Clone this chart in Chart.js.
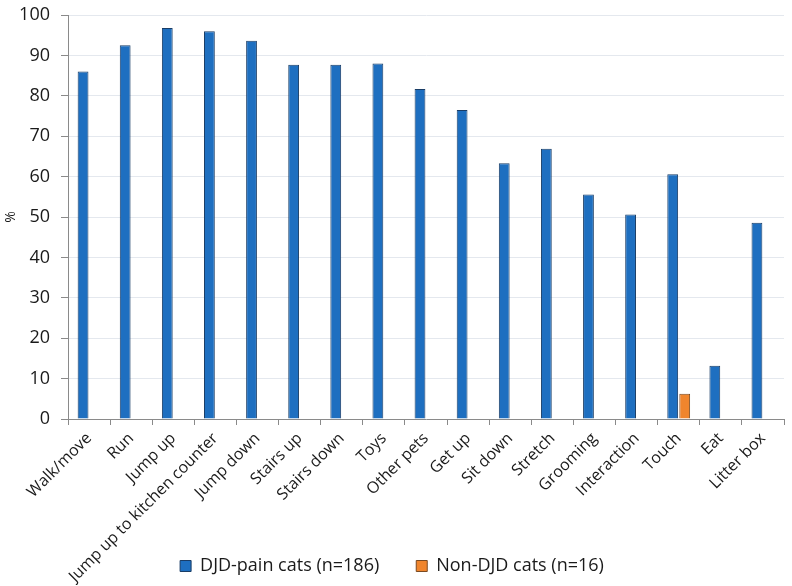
<!DOCTYPE html>
<html>
<head>
<meta charset="utf-8">
<script src="https://cdn.jsdelivr.net/npm/chart.js@4.4.1/dist/chart.umd.min.js"></script>
<style>
html,body{margin:0;padding:0;background:#fff;}
#wrap{width:792px;height:586px;position:relative;}
</style>
</head>
<body>
<div id="wrap"><canvas id="c" width="792" height="586"></canvas></div>
<script>
const categories = ["Walk/move","Run","Jump up","Jump up to kitchen counter","Jump down","Stairs up","Stairs down","Toys","Other pets","Get up","Sit down","Stretch","Grooming","Interaction","Touch","Eat","Litter box"];
const djdPain = [86.0,92.5,96.8,96.0,93.6,87.7,87.7,88.0,81.7,76.5,63.3,66.9,55.6,50.6,60.6,13.2,48.6];
const nonDjd = [0,0,0,0,0,0,0,0,0,0,0,0,0,0,6.25,0,0];
const seriesNames = ["DJD-pain cats (n=186)","Non-DJD cats (n=16)"];
const yTicks = [0,10,20,30,40,50,60,70,80,90,100];

const FONT = "'Open Sans', 'DejaVu Sans', sans-serif";
Chart.defaults.font.family = FONT;
Chart.defaults.color = '#1a1a1a';

// the legend row shares the space under the rotated category labels
const legendPlace = {
  id: 'legendPlace',
  beforeDraw(chart) {
    const l = chart.legend;
    if (l) { l.top = 520; l.bottom = chart.height; l.height = l.bottom - l.top; }
  }
};

new Chart(document.getElementById('c'), {
  type: 'bar',
  data: {
    labels: categories,
    datasets: [
      {label: seriesNames[0], data: djdPain, backgroundColor: '#1e6fc0', borderColor: '#1a3d66', borderWidth: 1,
       categoryPercentage: 0.57, barPercentage: 0.9},
      {label: seriesNames[1], data: nonDjd, backgroundColor: '#f0852d', borderColor: '#7a4a22', borderWidth: 1,
       categoryPercentage: 0.57, barPercentage: 0.9}
    ]
  },
  plugins: [legendPlace],
  options: {
    responsive: false,
    animation: false,
    devicePixelRatio: 1,
    layout: {padding: {left: 0, right: 8, top: 15, bottom: 0}},
    plugins: {
      tooltip: {enabled: false},
      legend: {
        position: 'bottom',
        maxHeight: 1,
        labels: {
          boxWidth: 11, boxHeight: 11, padding: 37,
          font: {size: 18}, color: '#1a1a1a'
        }
      }
    },
    scales: {
      x: {
        offset: true,
        grid: {offset: true, drawOnChartArea: false, drawTicks: true, tickLength: 6, tickColor: '#8a8a8a'},
        border: {display: true, color: '#8a8a8a', width: 1},
        ticks: {minRotation: 45, maxRotation: 45, autoSkip: false, font: {size: 16}, color: '#1a1a1a', padding: 4},
        afterFit: s => { s.height = 166; }
      },
      y: {
        min: 0, max: 100,
        afterBuildTicks: s => { s.ticks = yTicks.map(v => ({value: v})); },
        grid: {color: '#e4e8ee', tickColor: '#8a8a8a', tickLength: 7, drawTicks: true},
        border: {display: true, color: '#8a8a8a', width: 1},
        ticks: {font: {size: 18}, color: '#1a1a1a', padding: 11},
        title: {display: true, text: '%', font: {size: 14}, color: '#1a1a1a', padding: {top: 3, bottom: 0}},
        afterFit: s => { s.width = 68; s.paddingTop = 0; s.paddingBottom = 0; }
      }
    }
  }
});
</script>
</body>
</html>
